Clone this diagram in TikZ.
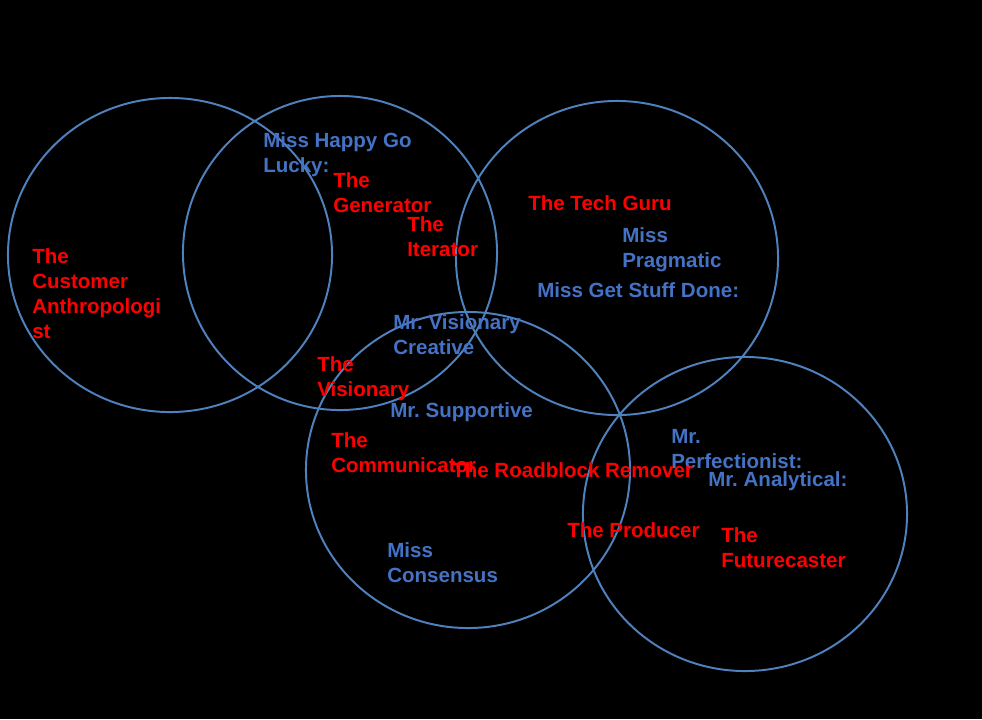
\documentclass[tikz,border=0pt]{standalone}
\usepackage{fontspec}
\setmainfont{Liberation Sans}
\usepackage{tikz}
\usetikzlibrary{positioning,backgrounds}
\frenchspacing
\definecolor{ringblue}{HTML}{4F81BD}
\definecolor{roleblue}{HTML}{4472C4}
\definecolor{rolered}{HTML}{FF0000}
\tikzset{
  % ringar
  ring/.style={draw=ringblue,line width=1.4pt},
  % etiketter
  lbl/.style={anchor=north west,inner sep=0pt,align=left,
              font=\fontsize{14.6}{17.8}\selectfont\bfseries},
  persona/.style={lbl,text=roleblue},
  role/.style={lbl,text=rolered},
}
\begin{document}
\begin{tikzpicture}[x=0.025cm,y=-0.025cm]
  \fill[black] (0,0) rectangle (982,719);
  \useasboundingbox (0,0) rectangle (982,719);
  \draw[ring] (170,255) ellipse [x radius=4.05cm, y radius=3.925cm];
  \draw[ring] (340,253) ellipse [x radius=3.925cm, y radius=3.925cm];
  \draw[ring] (617,258) ellipse [x radius=4.025cm, y radius=3.925cm];
  \draw[ring] (468,470) ellipse [x radius=4.05cm, y radius=3.95cm];
  \draw[ring] (745,514) ellipse [x radius=4.05cm, y radius=3.925cm];
  % personor
  \node[persona] (happy) at (263,132) {Miss Happy Go\\Lucky:};
  \node[persona] (visionary) at (393,314) {Mr. Visionary\\Creative};
  \node[persona] (supportive) at (390,402) {Mr. Supportive};
  \node[persona] (pragmatic) at (622,227) {Miss\\Pragmatic};
  \node[persona] (getdone) at (537,282) {Miss Get Stuff Done:};
  \node[persona] (perfect) at (671,429) {Mr.\\Perfectionist:};
  \node[persona] (analytical) at (708,471) {Mr. Analytical:};
  \node[persona] (consensus) at (387,542) {Miss\\Consensus};
  % roller
  \node[role] (anthro) at (32,248) {The\\Customer\\Anthropologi\\st};
  \node[role] (generator) at (333,172) {The\\Generator};
  \node[role] (iterator) at (407,216) {The\\Iterator};
  \node[role] (visionrole) at (317,356) {The\\Visionary};
  \node[role] (techguru) at (528,195) {The Tech Guru};
  \node[role] (communicator) at (331,432) {The\\Communicator};
  \node[role] (roadblock) at (452,462) {The Roadblock Remover};
  \node[role] (producer) at (567,522) {The Producer};
  \node[role] (futurecaster) at (721,527) {The\\Futurecaster};
\end{tikzpicture}
\end{document}
